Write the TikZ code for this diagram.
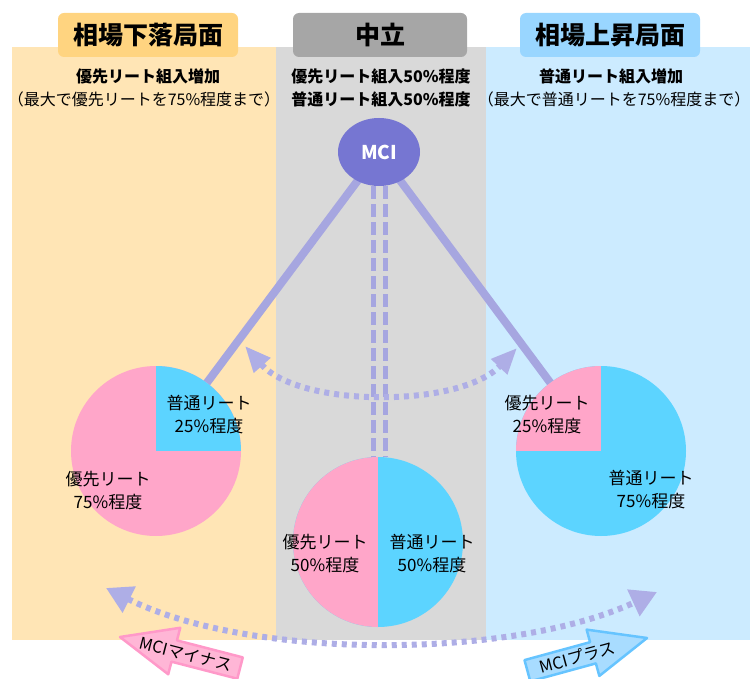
\documentclass[tikz,border=0pt]{standalone}
\usepackage{fontspec}
\setmainfont{Noto Sans CJK JP}
\usetikzlibrary{shapes.geometric,arrows.meta}
\definecolor{lpanel}{HTML}{FFE5B5}
\definecolor{lhead}{HTML}{FFD480}
\definecolor{cpanel}{HTML}{D9D9D9}
\definecolor{chead}{HTML}{A6A6A6}
\definecolor{rpanel}{HTML}{CCEBFF}
\definecolor{rhead}{HTML}{99D6FF}
\definecolor{pinkq}{HTML}{FFA6C9}
\definecolor{blueq}{HTML}{5CD4FF}
\definecolor{mcic}{HTML}{7676D2}
\definecolor{linec}{HTML}{A6A6E0}
\definecolor{dotc}{HTML}{AEAEE6}
\definecolor{minusfill}{HTML}{FFB6D6}
\definecolor{minusdraw}{HTML}{FF99C9}
\definecolor{plusfill}{HTML}{A8DCFF}
\definecolor{plusdraw}{HTML}{66C4FF}
\pgfdeclarelayer{bgpanel}
\pgfdeclarelayer{bglines}
\pgfsetlayers{bgpanel,bglines,main}
\begin{document}
\begin{tikzpicture}[x=1pt,y=-1pt,
  headbox/.style={rounded corners=6pt, inner sep=0pt, minimum height=44pt, font=\fontsize{25}{30}\selectfont\bfseries},
  subtxt/.style={inner sep=0pt, font=\fontsize{16}{24}\selectfont\bfseries},
  subtxtn/.style={inner sep=0pt, font=\fontsize{16}{24}\selectfont},
  pielbl/.style={inner sep=0pt, align=center, font=\fontsize{17}{23}\selectfont},
  pienode/.style={circle, minimum size=170pt, inner sep=0pt},
  thickline/.style={line width=8pt, draw=linec},
  vdash/.style={line width=5pt, draw=linec, dash pattern=on 13pt off 5pt},
  dotline/.style={line width=6pt, draw=dotc, dash pattern=on 5pt off 5pt},
  arrtxt/.style={transform shape, inner sep=0pt, font=\fontsize{16.5}{16.5}\selectfont}
]
\useasboundingbox (0,0) rectangle (755,679);

% panels
\begin{pgfonlayer}{bgpanel}
\fill[lpanel] (12,47) rectangle (276,640);
\fill[cpanel] (276,47) rectangle (486,640);
\fill[rpanel] (486,47) rectangle (750,640);
\end{pgfonlayer}

% headers
\node[headbox, fill=lhead, minimum width=180pt] (hl) at (148,35) {相場下落局面};
\node[headbox, fill=chead, minimum width=174pt] (hc) at (380,35) {中立};
\node[headbox, fill=rhead, minimum width=180pt] (hr) at (610,35) {相場上昇局面};

\node[subtxt] (sl1) at (148,76) {優先リート組入増加};
\node[subtxtn] (sl2) at (144,99) {（最大で優先リートを75\%程度まで）};
\node[subtxt] (sc1) at (381,76) {優先リート組入50\%程度};
\node[subtxt] (sc2) at (381,99) {普通リート組入50\%程度};
\node[subtxt] (sr1) at (611,76) {普通リート組入増加};
\node[subtxtn] (sr2) at (614,99) {（最大で普通リートを75\%程度まで）};

% pies
\node[pienode, fill=pinkq] (pieL) at (156,451) {};
\begin{scope}
  \clip (pieL.center) circle[radius=85];
  \fill[blueq] (pieL.center) rectangle ++(90,-90);
\end{scope}
\node[pienode, fill=blueq] (pieR) at (601,451) {};
\begin{scope}
  \clip (pieR.center) circle[radius=85];
  \fill[pinkq] (pieR.center) rectangle ++(-90,-90);
\end{scope}
\node[pienode, fill=blueq] (pieC) at (378,542) {};
\begin{scope}
  \clip (pieC.center) circle[radius=85];
  \fill[pinkq] ([shift={(-90,-90)}]pieC.center) rectangle (pieC.south);
\end{scope}

% MCI
\node[ellipse, fill=mcic, minimum width=82pt, minimum height=68pt, inner sep=0pt,
      text=white, font=\fontsize{19}{19}\selectfont\bfseries] (mci) at (379,152) {MCI};

% connectors
\begin{pgfonlayer}{bglines}
\draw[thickline] (mci.center) -- (pieL.center);
\draw[thickline] (mci.center) -- (pieR.center);
\draw[vdash] ([xshift=-6pt]mci.south) -- ([xshift=-6pt]mci.south |- pieC.north);
\draw[vdash] ([xshift=6pt]mci.south) -- ([xshift=6pt]mci.south |- pieC.north);
\end{pgfonlayer}

% pie labels
\node[pielbl] (l1) at (209,415) {普通リート\\25\%程度};
\node[pielbl] (l2) at (108,491) {優先リート\\75\%程度};
\node[pielbl] (r1) at (547,415) {優先リート\\25\%程度};
\node[pielbl] (r2) at (651,490) {普通リート\\75\%程度};
\node[pielbl] (c1) at (325,554) {優先リート\\50\%程度};
\node[pielbl] (c2) at (432,554) {普通リート\\50\%程度};

% dotted curved arrows
\coordinate (ua) at (245,346);
\coordinate (ub) at (517,348);
\draw[dotline, {Triangle[length=26pt,width=21pt]}-{Triangle[length=26pt,width=21pt]}]
  (ua) .. controls (300,408) and (460,408) .. (ub);
\coordinate (la) at (106,588);
\coordinate (lb) at (657,592);
\draw[dotline, {Triangle[length=26pt,width=28pt]}-{Triangle[length=26pt,width=28pt]}]
  (la) .. controls (250,660) and (510,660) .. (lb);

% block arrows
\begin{scope}[shift={(120,637)}, rotate=-14.5]
  \filldraw[fill=minusfill, draw=minusdraw, line width=2.5pt, line join=round]
    (0,0) -- (56,-24) -- (56,-11) -- (124,-11) -- (124,11) -- (56,11) -- (56,24) -- cycle;
  \node[arrtxt] (minus) at (68,0) {MCIマイナス};
\end{scope}
\begin{scope}[shift={(647,638)}, rotate=15.3]
  \filldraw[fill=plusfill, draw=plusdraw, line width=2.5pt, line join=round]
    (0,0) -- (-56,-24) -- (-56,-11) -- (-124,-11) -- (-124,11) -- (-56,11) -- (-56,24) -- cycle;
  \node[arrtxt] (plus) at (-72,0) {MCIプラス};
\end{scope}
\end{tikzpicture}
\end{document}
